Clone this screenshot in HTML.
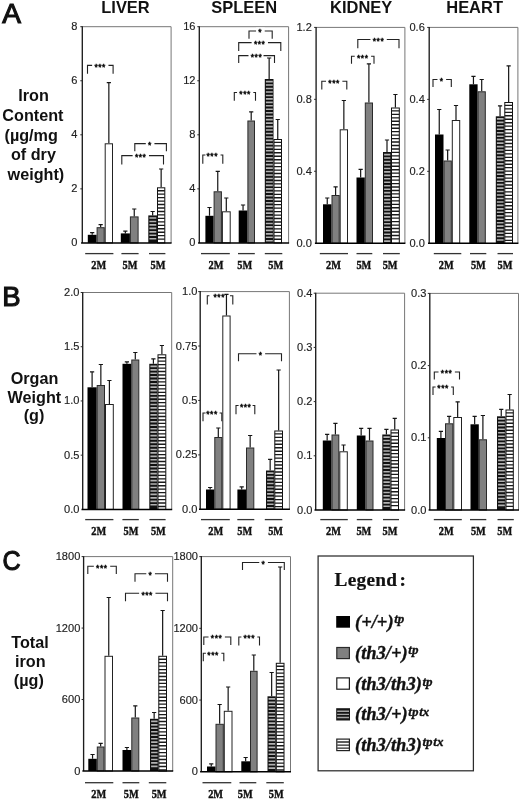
<!DOCTYPE html>
<html><head><meta charset="utf-8"><title>Figure</title>
<style>
html,body{margin:0;padding:0;background:#fff;}
svg{display:block;will-change:transform;}
.s{font-family:"Liberation Sans",Arial,Helvetica,sans-serif;}
.t{font-family:"Liberation Serif","Times New Roman",Times,serif;}
.b{font-family:"Liberation Sans",Arial,Helvetica,sans-serif;font-weight:bold;}
</style></head><body>
<svg width="520" height="802" viewBox="0 0 520 802">
<rect width="520" height="802" fill="#fff"/>
<text transform="translate(125.5 13.1) scale(1.01 1)" font-size="16.3" text-anchor="middle" class="b" fill="#111">LIVER</text>
<text transform="translate(244.2 13.1) scale(1.01 1)" font-size="16.3" text-anchor="middle" class="b" fill="#111">SPLEEN</text>
<text transform="translate(361.2 13.1) scale(1.01 1)" font-size="16.3" text-anchor="middle" class="b" fill="#111">KIDNEY</text>
<text transform="translate(474.6 13.1) scale(1.01 1)" font-size="16.3" text-anchor="middle" class="b" fill="#111">HEART</text>
<text transform="translate(2.2 23.0) scale(1.04 1)" font-size="27" class="s" fill="#111" stroke="#111" stroke-width="1.1">A</text>
<text transform="translate(2.3 305.5) scale(1.02 1)" font-size="27" class="s" fill="#111" stroke="#111" stroke-width="1.1">B</text>
<text transform="translate(2.4 570.2) scale(0.93 1)" font-size="27" class="s" fill="#111" stroke="#111" stroke-width="1.1">C</text>
<text transform="translate(33.5 101.1) scale(1.0 1)" font-size="16.2" text-anchor="middle" class="b" fill="#111">Iron</text>
<text transform="translate(32.9 120.7) scale(1.0 1)" font-size="16.2" text-anchor="middle" class="b" fill="#111">Content</text>
<text transform="translate(31.2 141.0) scale(1.0 1)" font-size="16.2" text-anchor="middle" class="b" fill="#111">(µg/mg</text>
<text transform="translate(33.4 159.8) scale(1.0 1)" font-size="16.2" text-anchor="middle" class="b" fill="#111">of dry</text>
<text transform="translate(35.9 179.5) scale(1.0 1)" font-size="16.2" text-anchor="middle" class="b" fill="#111">weight)</text>
<text transform="translate(34.5 384.4) scale(1.0 1)" font-size="16.2" text-anchor="middle" class="b" fill="#111">Organ</text>
<text transform="translate(34.4 402.9) scale(1.0 1)" font-size="16.2" text-anchor="middle" class="b" fill="#111">Weight</text>
<text transform="translate(34.0 421.4) scale(1.0 1)" font-size="16.2" text-anchor="middle" class="b" fill="#111">(g)</text>
<text transform="translate(30.0 648.2) scale(1.0 1)" font-size="16.2" text-anchor="middle" class="b" fill="#111">Total</text>
<text transform="translate(30.3 666.8) scale(1.0 1)" font-size="16.2" text-anchor="middle" class="b" fill="#111">iron</text>
<text transform="translate(28.8 685.5) scale(1.0 1)" font-size="16.2" text-anchor="middle" class="b" fill="#111">(µg)</text>
<path d="M82.3 26.7H171.1V242.9" stroke="#777" stroke-width="1" fill="none"/>
<path d="M87.5 73.8V65.4H113.1V73.8" stroke="#222" stroke-width="1.1" fill="none"/>
<rect x="92.12" y="61.9" width="16.35" height="6" fill="#fff"/>
<path d="M134.8 151.3V143.6H166.4V151.3" stroke="#222" stroke-width="1.1" fill="none"/>
<rect x="145.78" y="140.1" width="8.65" height="6" fill="#fff"/>
<path d="M121.8 164.4V155.6H163.5V164.4" stroke="#222" stroke-width="1.1" fill="none"/>
<rect x="132.62" y="152.1" width="16.35" height="6" fill="#fff"/>
<path d="M92.2 234.8V232.6M90.1 232.6H94.3" stroke="#151515" stroke-width="1.2" fill="none"/>
<rect x="87.8" y="234.8" width="8.8" height="8.1" fill="#000"/>
<path d="M100.65 227.2V224.6M98.55 224.6H102.75" stroke="#151515" stroke-width="1.2" fill="none"/>
<rect x="97.1" y="227.7" width="7.1" height="15.2" fill="#808080" stroke="#2a2a2a" stroke-width="1"/>
<path d="M108.85 143.3V82.7M106.75 82.7H110.95" stroke="#151515" stroke-width="1.2" fill="none"/>
<rect x="105.2" y="143.8" width="7.3" height="99.1" fill="#fff" stroke="#222" stroke-width="1"/>
<path d="M125.35 233.4V231.2M123.25 231.2H127.45" stroke="#151515" stroke-width="1.2" fill="none"/>
<rect x="120.8" y="233.4" width="9.1" height="9.5" fill="#000"/>
<path d="M134.25 216.4V209M132.15 209H136.35" stroke="#151515" stroke-width="1.2" fill="none"/>
<rect x="130.4" y="216.9" width="7.7" height="26" fill="#808080" stroke="#2a2a2a" stroke-width="1"/>
<path d="M152.65 215.4V211.5M150.55 211.5H154.75" stroke="#151515" stroke-width="1.2" fill="none"/>
<rect x="148.3" y="215.4" width="8.7" height="27.5" fill="#111"/>
<path d="M149.4 218H156.3M149.4 221.46H156.3M149.4 224.92H156.3M149.4 228.38H156.3M149.4 231.84H156.3M149.4 235.3H156.3M149.4 238.76H156.3" stroke="#b2b2b2" stroke-width="1.6" fill="none"/>
<path d="M161.15 187.3V169M159.05 169H163.25" stroke="#151515" stroke-width="1.2" fill="none"/>
<rect x="157.5" y="187.8" width="7.3" height="55.1" fill="#fff" stroke="#111" stroke-width="1"/>
<path d="M157.5 190.7H164.8M157.5 194.16H164.8M157.5 197.62H164.8M157.5 201.08H164.8M157.5 204.54H164.8M157.5 208H164.8M157.5 211.46H164.8M157.5 214.92H164.8M157.5 218.38H164.8M157.5 221.84H164.8M157.5 225.3H164.8M157.5 228.76H164.8M157.5 232.22H164.8M157.5 235.68H164.8M157.5 239.14H164.8" stroke="#1a1a1a" stroke-width="1.35" fill="none"/>
<path d="M82.3 26.2V242.9" stroke="#1c1c1c" stroke-width="1.35" fill="none"/>
<path d="M81.1 242.9H171.6" stroke="#000" stroke-width="1.45" fill="none"/>
<path d="M80.3 26.7H82.3" stroke="#2b2b2b" stroke-width="1" fill="none"/>
<text transform="translate(77.5 30.2) scale(0.955 1)" font-size="11.6" text-anchor="end" class="s" fill="#222" stroke="#222" stroke-width="0.15">8</text>
<path d="M80.3 80.75H82.3" stroke="#2b2b2b" stroke-width="1" fill="none"/>
<text transform="translate(77.5 84.25) scale(0.955 1)" font-size="11.6" text-anchor="end" class="s" fill="#222" stroke="#222" stroke-width="0.15">6</text>
<path d="M80.3 134.8H82.3" stroke="#2b2b2b" stroke-width="1" fill="none"/>
<text transform="translate(77.5 138.3) scale(0.955 1)" font-size="11.6" text-anchor="end" class="s" fill="#222" stroke="#222" stroke-width="0.15">4</text>
<path d="M80.3 188.85H82.3" stroke="#2b2b2b" stroke-width="1" fill="none"/>
<text transform="translate(77.5 192.35) scale(0.955 1)" font-size="11.6" text-anchor="end" class="s" fill="#222" stroke="#222" stroke-width="0.15">2</text>
<text transform="translate(77.5 246.4) scale(0.955 1)" font-size="11.6" text-anchor="end" class="s" fill="#222" stroke="#222" stroke-width="0.15">0</text>
<text x="100.2" y="69.8" font-size="8.4" letter-spacing="0.6" text-anchor="middle" class="s" fill="#111" stroke="#111" stroke-width="0.5">***</text>
<text x="150" y="148" font-size="8.4" letter-spacing="0.6" text-anchor="middle" class="s" fill="#111" stroke="#111" stroke-width="0.5">*</text>
<text x="140.7" y="160" font-size="8.4" letter-spacing="0.6" text-anchor="middle" class="s" fill="#111" stroke="#111" stroke-width="0.5">***</text>
<path d="M85.2 253.6H113.4" stroke="#333" stroke-width="1.3" fill="none"/>
<text transform="translate(98.7 268.8) scale(0.86 1)" font-size="12" text-anchor="middle" class="t" font-weight="bold" fill="#111" stroke="#111" stroke-width="0.4">2M</text>
<path d="M121.4 253.6H138.6" stroke="#333" stroke-width="1.3" fill="none"/>
<text transform="translate(130 268.8) scale(0.86 1)" font-size="12" text-anchor="middle" class="t" font-weight="bold" fill="#111" stroke="#111" stroke-width="0.4">5M</text>
<path d="M149 253.6H165.4" stroke="#333" stroke-width="1.3" fill="none"/>
<text transform="translate(158 268.8) scale(0.86 1)" font-size="12" text-anchor="middle" class="t" font-weight="bold" fill="#111" stroke="#111" stroke-width="0.4">5M</text>
<path d="M199.3 26.7H288.6V242.9" stroke="#777" stroke-width="1" fill="none"/>
<path d="M249 38.8V31H272.2V38.8" stroke="#222" stroke-width="1.1" fill="none"/>
<rect x="256.07" y="27.5" width="8.65" height="6" fill="#fff"/>
<path d="M238.7 51V42.6H280.8V51" stroke="#222" stroke-width="1.1" fill="none"/>
<rect x="251.62" y="39.1" width="16.35" height="6" fill="#fff"/>
<path d="M238.7 63V55.6H274.5V63" stroke="#222" stroke-width="1.1" fill="none"/>
<rect x="248.5" y="52.1" width="15" height="6" fill="#fff"/>
<path d="M234.3 100.8V92.5H255.5V100.8" stroke="#222" stroke-width="1.1" fill="none"/>
<rect x="237.03" y="89" width="16.28" height="6" fill="#fff"/>
<path d="M202.8 163.8V155H222.8V163.8" stroke="#222" stroke-width="1.1" fill="none"/>
<rect x="205.4" y="151.5" width="15.17" height="6" fill="#fff"/>
<path d="M209.5 215.8V207.5M207.4 207.5H211.6" stroke="#151515" stroke-width="1.2" fill="none"/>
<rect x="205.4" y="215.8" width="8.2" height="27.1" fill="#000"/>
<path d="M217.75 191.3V171.3M215.65 171.3H219.85" stroke="#151515" stroke-width="1.2" fill="none"/>
<rect x="214.1" y="191.8" width="7.3" height="51.1" fill="#808080" stroke="#2a2a2a" stroke-width="1"/>
<path d="M226.3 211.3V198M224.2 198H228.4" stroke="#151515" stroke-width="1.2" fill="none"/>
<rect x="222.4" y="211.8" width="7.8" height="31.1" fill="#fff" stroke="#222" stroke-width="1"/>
<path d="M243.05 210.5V205M240.95 205H245.15" stroke="#151515" stroke-width="1.2" fill="none"/>
<rect x="238.7" y="210.5" width="8.7" height="32.4" fill="#000"/>
<path d="M251.2 120.5V111.8M249.1 111.8H253.3" stroke="#151515" stroke-width="1.2" fill="none"/>
<rect x="247.9" y="121" width="6.6" height="121.9" fill="#808080" stroke="#2a2a2a" stroke-width="1"/>
<path d="M269.15 79V58M267.05 58H271.25" stroke="#151515" stroke-width="1.2" fill="none"/>
<rect x="264.8" y="79" width="8.7" height="163.9" fill="#111"/>
<path d="M265.9 81.6H272.8M265.9 85.06H272.8M265.9 88.52H272.8M265.9 91.98H272.8M265.9 95.44H272.8M265.9 98.9H272.8M265.9 102.36H272.8M265.9 105.82H272.8M265.9 109.28H272.8M265.9 112.74H272.8M265.9 116.2H272.8M265.9 119.66H272.8M265.9 123.12H272.8M265.9 126.58H272.8M265.9 130.04H272.8M265.9 133.5H272.8M265.9 136.96H272.8M265.9 140.42H272.8M265.9 143.88H272.8M265.9 147.34H272.8M265.9 150.8H272.8M265.9 154.26H272.8M265.9 157.72H272.8M265.9 161.18H272.8M265.9 164.64H272.8M265.9 168.1H272.8M265.9 171.56H272.8M265.9 175.02H272.8M265.9 178.48H272.8M265.9 181.94H272.8M265.9 185.4H272.8M265.9 188.86H272.8M265.9 192.32H272.8M265.9 195.78H272.8M265.9 199.24H272.8M265.9 202.7H272.8M265.9 206.16H272.8M265.9 209.62H272.8M265.9 213.08H272.8M265.9 216.54H272.8M265.9 220H272.8M265.9 223.46H272.8M265.9 226.92H272.8M265.9 230.38H272.8M265.9 233.84H272.8M265.9 237.3H272.8M265.9 240.76H272.8" stroke="#b2b2b2" stroke-width="1.6" fill="none"/>
<path d="M277.75 139V119.5M275.65 119.5H279.85" stroke="#151515" stroke-width="1.2" fill="none"/>
<rect x="274" y="139.5" width="7.5" height="103.4" fill="#fff" stroke="#111" stroke-width="1"/>
<path d="M274 142.4H281.5M274 145.86H281.5M274 149.32H281.5M274 152.78H281.5M274 156.24H281.5M274 159.7H281.5M274 163.16H281.5M274 166.62H281.5M274 170.08H281.5M274 173.54H281.5M274 177H281.5M274 180.46H281.5M274 183.92H281.5M274 187.38H281.5M274 190.84H281.5M274 194.3H281.5M274 197.76H281.5M274 201.22H281.5M274 204.68H281.5M274 208.14H281.5M274 211.6H281.5M274 215.06H281.5M274 218.52H281.5M274 221.98H281.5M274 225.44H281.5M274 228.9H281.5M274 232.36H281.5M274 235.82H281.5M274 239.28H281.5" stroke="#1a1a1a" stroke-width="1.35" fill="none"/>
<path d="M199.3 26.2V242.9" stroke="#1c1c1c" stroke-width="1.35" fill="none"/>
<path d="M198.1 242.9H289.1" stroke="#000" stroke-width="1.45" fill="none"/>
<path d="M197.3 26.7H199.3" stroke="#2b2b2b" stroke-width="1" fill="none"/>
<text transform="translate(195.5 30.2) scale(0.955 1)" font-size="11.6" text-anchor="end" class="s" fill="#222" stroke="#222" stroke-width="0.15">16</text>
<path d="M197.3 80.75H199.3" stroke="#2b2b2b" stroke-width="1" fill="none"/>
<text transform="translate(195.5 84.25) scale(0.955 1)" font-size="11.6" text-anchor="end" class="s" fill="#222" stroke="#222" stroke-width="0.15">12</text>
<path d="M197.3 134.8H199.3" stroke="#2b2b2b" stroke-width="1" fill="none"/>
<text transform="translate(195.5 138.3) scale(0.955 1)" font-size="11.6" text-anchor="end" class="s" fill="#222" stroke="#222" stroke-width="0.15">8</text>
<path d="M197.3 188.85H199.3" stroke="#2b2b2b" stroke-width="1" fill="none"/>
<text transform="translate(195.5 192.35) scale(0.955 1)" font-size="11.6" text-anchor="end" class="s" fill="#222" stroke="#222" stroke-width="0.15">4</text>
<text transform="translate(195.5 246.4) scale(0.955 1)" font-size="11.6" text-anchor="end" class="s" fill="#222" stroke="#222" stroke-width="0.15">0</text>
<text x="260.3" y="35.4" font-size="8.4" letter-spacing="0.6" text-anchor="middle" class="s" fill="#111" stroke="#111" stroke-width="0.5">*</text>
<text x="259.7" y="47" font-size="8.4" letter-spacing="0.6" text-anchor="middle" class="s" fill="#111" stroke="#111" stroke-width="0.5">***</text>
<text x="256.5" y="60" font-size="8.4" letter-spacing="0.6" text-anchor="middle" class="s" fill="#111" stroke="#111" stroke-width="0.5">***</text>
<text x="245.1" y="96.9" font-size="8.4" letter-spacing="0.6" text-anchor="middle" class="s" fill="#111" stroke="#111" stroke-width="0.5">***</text>
<text x="212.3" y="159.4" font-size="8.4" letter-spacing="0.6" text-anchor="middle" class="s" fill="#111" stroke="#111" stroke-width="0.5">***</text>
<path d="M201 253.6H229.8" stroke="#333" stroke-width="1.3" fill="none"/>
<text transform="translate(216 268.8) scale(0.86 1)" font-size="12" text-anchor="middle" class="t" font-weight="bold" fill="#111" stroke="#111" stroke-width="0.4">2M</text>
<path d="M238 253.6H254.8" stroke="#333" stroke-width="1.3" fill="none"/>
<text transform="translate(244.8 268.8) scale(0.86 1)" font-size="12" text-anchor="middle" class="t" font-weight="bold" fill="#111" stroke="#111" stroke-width="0.4">5M</text>
<path d="M264.8 253.6H282.3" stroke="#333" stroke-width="1.3" fill="none"/>
<text transform="translate(275.75 268.8) scale(0.86 1)" font-size="12" text-anchor="middle" class="t" font-weight="bold" fill="#111" stroke="#111" stroke-width="0.4">5M</text>
<path d="M316.1 27.4H404.9V243.2" stroke="#777" stroke-width="1" fill="none"/>
<path d="M357.8 48.3V39.5H399V48.3" stroke="#222" stroke-width="1.1" fill="none"/>
<rect x="370.43" y="36" width="16.35" height="6" fill="#fff"/>
<path d="M351.5 63.8V56.3H374V63.8" stroke="#222" stroke-width="1.1" fill="none"/>
<rect x="354.73" y="52.8" width="16.35" height="6" fill="#fff"/>
<path d="M321.8 89.5V81.3H346.8V89.5" stroke="#222" stroke-width="1.1" fill="none"/>
<rect x="326.02" y="77.8" width="16.35" height="6" fill="#fff"/>
<path d="M327.25 204.3V198M325.15 198H329.35" stroke="#151515" stroke-width="1.2" fill="none"/>
<rect x="323" y="204.3" width="8.5" height="38.9" fill="#000"/>
<path d="M335.6 195V186.8M333.5 186.8H337.7" stroke="#151515" stroke-width="1.2" fill="none"/>
<rect x="332" y="195.5" width="7.2" height="47.7" fill="#808080" stroke="#2a2a2a" stroke-width="1"/>
<path d="M343.85 129.3V100.5M341.75 100.5H345.95" stroke="#151515" stroke-width="1.2" fill="none"/>
<rect x="340.2" y="129.8" width="7.3" height="113.4" fill="#fff" stroke="#222" stroke-width="1"/>
<path d="M360.65 177.5V169.3M358.55 169.3H362.75" stroke="#151515" stroke-width="1.2" fill="none"/>
<rect x="356.5" y="177.5" width="8.3" height="65.7" fill="#000"/>
<path d="M368.9 102.5V63.8M366.8 63.8H371" stroke="#151515" stroke-width="1.2" fill="none"/>
<rect x="365.3" y="103" width="7.2" height="140.2" fill="#808080" stroke="#2a2a2a" stroke-width="1"/>
<path d="M387 152V140M384.9 140H389.1" stroke="#151515" stroke-width="1.2" fill="none"/>
<rect x="383" y="152" width="8" height="91.2" fill="#111"/>
<path d="M384.1 154.6H390.3M384.1 158.06H390.3M384.1 161.52H390.3M384.1 164.98H390.3M384.1 168.44H390.3M384.1 171.9H390.3M384.1 175.36H390.3M384.1 178.82H390.3M384.1 182.28H390.3M384.1 185.74H390.3M384.1 189.2H390.3M384.1 192.66H390.3M384.1 196.12H390.3M384.1 199.58H390.3M384.1 203.04H390.3M384.1 206.5H390.3M384.1 209.96H390.3M384.1 213.42H390.3M384.1 216.88H390.3M384.1 220.34H390.3M384.1 223.8H390.3M384.1 227.26H390.3M384.1 230.72H390.3M384.1 234.18H390.3M384.1 237.64H390.3M384.1 241.1H390.3" stroke="#b2b2b2" stroke-width="1.6" fill="none"/>
<path d="M395.4 107.5V94.5M393.3 94.5H397.5" stroke="#151515" stroke-width="1.2" fill="none"/>
<rect x="391.5" y="108" width="7.8" height="135.2" fill="#fff" stroke="#111" stroke-width="1"/>
<path d="M391.5 110.9H399.3M391.5 114.36H399.3M391.5 117.82H399.3M391.5 121.28H399.3M391.5 124.74H399.3M391.5 128.2H399.3M391.5 131.66H399.3M391.5 135.12H399.3M391.5 138.58H399.3M391.5 142.04H399.3M391.5 145.5H399.3M391.5 148.96H399.3M391.5 152.42H399.3M391.5 155.88H399.3M391.5 159.34H399.3M391.5 162.8H399.3M391.5 166.26H399.3M391.5 169.72H399.3M391.5 173.18H399.3M391.5 176.64H399.3M391.5 180.1H399.3M391.5 183.56H399.3M391.5 187.02H399.3M391.5 190.48H399.3M391.5 193.94H399.3M391.5 197.4H399.3M391.5 200.86H399.3M391.5 204.32H399.3M391.5 207.78H399.3M391.5 211.24H399.3M391.5 214.7H399.3M391.5 218.16H399.3M391.5 221.62H399.3M391.5 225.08H399.3M391.5 228.54H399.3M391.5 232H399.3M391.5 235.46H399.3M391.5 238.92H399.3" stroke="#1a1a1a" stroke-width="1.35" fill="none"/>
<path d="M316.1 26.9V243.2" stroke="#1c1c1c" stroke-width="1.35" fill="none"/>
<path d="M314.9 243.2H405.4" stroke="#000" stroke-width="1.45" fill="none"/>
<path d="M314.1 27.4H316.1" stroke="#2b2b2b" stroke-width="1" fill="none"/>
<text transform="translate(311.8 30.9) scale(0.955 1)" font-size="11.6" text-anchor="end" class="s" fill="#222" stroke="#222" stroke-width="0.15">1.2</text>
<path d="M314.1 99.33H316.1" stroke="#2b2b2b" stroke-width="1" fill="none"/>
<text transform="translate(311.8 102.83) scale(0.955 1)" font-size="11.6" text-anchor="end" class="s" fill="#222" stroke="#222" stroke-width="0.15">0.8</text>
<path d="M314.1 171.27H316.1" stroke="#2b2b2b" stroke-width="1" fill="none"/>
<text transform="translate(311.8 174.77) scale(0.955 1)" font-size="11.6" text-anchor="end" class="s" fill="#222" stroke="#222" stroke-width="0.15">0.4</text>
<text transform="translate(311.8 246.7) scale(0.955 1)" font-size="11.6" text-anchor="end" class="s" fill="#222" stroke="#222" stroke-width="0.15">0.0</text>
<text x="378.5" y="43.9" font-size="8.4" letter-spacing="0.6" text-anchor="middle" class="s" fill="#111" stroke="#111" stroke-width="0.5">***</text>
<text x="362.8" y="60.7" font-size="8.4" letter-spacing="0.6" text-anchor="middle" class="s" fill="#111" stroke="#111" stroke-width="0.5">***</text>
<text x="334.1" y="85.7" font-size="8.4" letter-spacing="0.6" text-anchor="middle" class="s" fill="#111" stroke="#111" stroke-width="0.5">***</text>
<path d="M319.8 253.6H348" stroke="#333" stroke-width="1.3" fill="none"/>
<text transform="translate(333.5 268.8) scale(0.86 1)" font-size="12" text-anchor="middle" class="t" font-weight="bold" fill="#111" stroke="#111" stroke-width="0.4">2M</text>
<path d="M356.5 253.6H372.3" stroke="#333" stroke-width="1.3" fill="none"/>
<text transform="translate(363.9 268.8) scale(0.86 1)" font-size="12" text-anchor="middle" class="t" font-weight="bold" fill="#111" stroke="#111" stroke-width="0.4">5M</text>
<path d="M383 253.6H399.8" stroke="#333" stroke-width="1.3" fill="none"/>
<text transform="translate(390.15 268.8) scale(0.86 1)" font-size="12" text-anchor="middle" class="t" font-weight="bold" fill="#111" stroke="#111" stroke-width="0.4">5M</text>
<path d="M429.2 27.4H517.9V243.3" stroke="#777" stroke-width="1" fill="none"/>
<path d="M433 87V79.5H451.3V87" stroke="#222" stroke-width="1.1" fill="none"/>
<rect x="437.47" y="76" width="8.65" height="6" fill="#fff"/>
<path d="M439.25 134.5V109.5M437.15 109.5H441.35" stroke="#151515" stroke-width="1.2" fill="none"/>
<rect x="435" y="134.5" width="8.5" height="108.8" fill="#000"/>
<path d="M447.65 160.5V150M445.55 150H449.75" stroke="#151515" stroke-width="1.2" fill="none"/>
<rect x="444" y="161" width="7.3" height="82.3" fill="#808080" stroke="#2a2a2a" stroke-width="1"/>
<path d="M456 120V105.5M453.9 105.5H458.1" stroke="#151515" stroke-width="1.2" fill="none"/>
<rect x="452.3" y="120.5" width="7.4" height="122.8" fill="#fff" stroke="#222" stroke-width="1"/>
<path d="M473.45 84.3V76.3M471.35 76.3H475.55" stroke="#151515" stroke-width="1.2" fill="none"/>
<rect x="469.3" y="84.3" width="8.3" height="159" fill="#000"/>
<path d="M481.7 91.3V79.5M479.6 79.5H483.8" stroke="#151515" stroke-width="1.2" fill="none"/>
<rect x="478.1" y="91.8" width="7.2" height="151.5" fill="#808080" stroke="#2a2a2a" stroke-width="1"/>
<path d="M500.05 116.3V105.8M497.95 105.8H502.15" stroke="#151515" stroke-width="1.2" fill="none"/>
<rect x="495.8" y="116.3" width="8.5" height="127" fill="#111"/>
<path d="M496.9 118.9H503.6M496.9 122.36H503.6M496.9 125.82H503.6M496.9 129.28H503.6M496.9 132.74H503.6M496.9 136.2H503.6M496.9 139.66H503.6M496.9 143.12H503.6M496.9 146.58H503.6M496.9 150.04H503.6M496.9 153.5H503.6M496.9 156.96H503.6M496.9 160.42H503.6M496.9 163.88H503.6M496.9 167.34H503.6M496.9 170.8H503.6M496.9 174.26H503.6M496.9 177.72H503.6M496.9 181.18H503.6M496.9 184.64H503.6M496.9 188.1H503.6M496.9 191.56H503.6M496.9 195.02H503.6M496.9 198.48H503.6M496.9 201.94H503.6M496.9 205.4H503.6M496.9 208.86H503.6M496.9 212.32H503.6M496.9 215.78H503.6M496.9 219.24H503.6M496.9 222.7H503.6M496.9 226.16H503.6M496.9 229.62H503.6M496.9 233.08H503.6M496.9 236.54H503.6M496.9 240H503.6" stroke="#b2b2b2" stroke-width="1.6" fill="none"/>
<path d="M508.65 102V65.8M506.55 65.8H510.75" stroke="#151515" stroke-width="1.2" fill="none"/>
<rect x="504.8" y="102.5" width="7.7" height="140.8" fill="#fff" stroke="#111" stroke-width="1"/>
<path d="M504.8 105.4H512.5M504.8 108.86H512.5M504.8 112.32H512.5M504.8 115.78H512.5M504.8 119.24H512.5M504.8 122.7H512.5M504.8 126.16H512.5M504.8 129.62H512.5M504.8 133.08H512.5M504.8 136.54H512.5M504.8 140H512.5M504.8 143.46H512.5M504.8 146.92H512.5M504.8 150.38H512.5M504.8 153.84H512.5M504.8 157.3H512.5M504.8 160.76H512.5M504.8 164.22H512.5M504.8 167.68H512.5M504.8 171.14H512.5M504.8 174.6H512.5M504.8 178.06H512.5M504.8 181.52H512.5M504.8 184.98H512.5M504.8 188.44H512.5M504.8 191.9H512.5M504.8 195.36H512.5M504.8 198.82H512.5M504.8 202.28H512.5M504.8 205.74H512.5M504.8 209.2H512.5M504.8 212.66H512.5M504.8 216.12H512.5M504.8 219.58H512.5M504.8 223.04H512.5M504.8 226.5H512.5M504.8 229.96H512.5M504.8 233.42H512.5M504.8 236.88H512.5M504.8 240.34H512.5" stroke="#1a1a1a" stroke-width="1.35" fill="none"/>
<path d="M429.2 26.9V243.3" stroke="#1c1c1c" stroke-width="1.35" fill="none"/>
<path d="M428 243.3H518.4" stroke="#000" stroke-width="1.45" fill="none"/>
<path d="M427.2 27.4H429.2" stroke="#2b2b2b" stroke-width="1" fill="none"/>
<text transform="translate(424.8 30.9) scale(0.955 1)" font-size="11.6" text-anchor="end" class="s" fill="#222" stroke="#222" stroke-width="0.15">0.6</text>
<path d="M427.2 99.37H429.2" stroke="#2b2b2b" stroke-width="1" fill="none"/>
<text transform="translate(424.8 102.87) scale(0.955 1)" font-size="11.6" text-anchor="end" class="s" fill="#222" stroke="#222" stroke-width="0.15">0.4</text>
<path d="M427.2 171.33H429.2" stroke="#2b2b2b" stroke-width="1" fill="none"/>
<text transform="translate(424.8 174.83) scale(0.955 1)" font-size="11.6" text-anchor="end" class="s" fill="#222" stroke="#222" stroke-width="0.15">0.2</text>
<text transform="translate(424.8 246.8) scale(0.955 1)" font-size="11.6" text-anchor="end" class="s" fill="#222" stroke="#222" stroke-width="0.15">0.0</text>
<text x="441.7" y="83.9" font-size="8.4" letter-spacing="0.6" text-anchor="middle" class="s" fill="#111" stroke="#111" stroke-width="0.5">*</text>
<path d="M433.8 253.6H461.3" stroke="#333" stroke-width="1.3" fill="none"/>
<text transform="translate(446.3 268.8) scale(0.86 1)" font-size="12" text-anchor="middle" class="t" font-weight="bold" fill="#111" stroke="#111" stroke-width="0.4">2M</text>
<path d="M470 253.6H486.3" stroke="#333" stroke-width="1.3" fill="none"/>
<text transform="translate(478.4 268.8) scale(0.86 1)" font-size="12" text-anchor="middle" class="t" font-weight="bold" fill="#111" stroke="#111" stroke-width="0.4">5M</text>
<path d="M497.5 253.6H513" stroke="#333" stroke-width="1.3" fill="none"/>
<text transform="translate(505 268.8) scale(0.86 1)" font-size="12" text-anchor="middle" class="t" font-weight="bold" fill="#111" stroke="#111" stroke-width="0.4">5M</text>
<path d="M82.7 292.5H171.7V509.4" stroke="#777" stroke-width="1" fill="none"/>
<path d="M92.1 387.3V371.8M90 371.8H94.2" stroke="#151515" stroke-width="1.2" fill="none"/>
<rect x="87.5" y="387.3" width="9.2" height="122.1" fill="#000"/>
<path d="M100.85 385V364.5M98.75 364.5H102.95" stroke="#151515" stroke-width="1.2" fill="none"/>
<rect x="97.2" y="385.5" width="7.3" height="123.9" fill="#808080" stroke="#2a2a2a" stroke-width="1"/>
<path d="M109.4 404V380.5M107.3 380.5H111.5" stroke="#151515" stroke-width="1.2" fill="none"/>
<rect x="105.5" y="404.5" width="7.8" height="104.9" fill="#fff" stroke="#222" stroke-width="1"/>
<path d="M126.9 363.8V361.8M124.8 361.8H129" stroke="#151515" stroke-width="1.2" fill="none"/>
<rect x="122.5" y="363.8" width="8.8" height="145.6" fill="#000"/>
<path d="M135.3 359.5V352.5M133.2 352.5H137.4" stroke="#151515" stroke-width="1.2" fill="none"/>
<rect x="131.8" y="360" width="7" height="149.4" fill="#808080" stroke="#2a2a2a" stroke-width="1"/>
<path d="M153.4 363.8V358.8M151.3 358.8H155.5" stroke="#151515" stroke-width="1.2" fill="none"/>
<rect x="149.3" y="363.8" width="8.2" height="145.6" fill="#111"/>
<path d="M150.4 366.4H156.8M150.4 369.86H156.8M150.4 373.32H156.8M150.4 376.78H156.8M150.4 380.24H156.8M150.4 383.7H156.8M150.4 387.16H156.8M150.4 390.62H156.8M150.4 394.08H156.8M150.4 397.54H156.8M150.4 401H156.8M150.4 404.46H156.8M150.4 407.92H156.8M150.4 411.38H156.8M150.4 414.84H156.8M150.4 418.3H156.8M150.4 421.76H156.8M150.4 425.22H156.8M150.4 428.68H156.8M150.4 432.14H156.8M150.4 435.6H156.8M150.4 439.06H156.8M150.4 442.52H156.8M150.4 445.98H156.8M150.4 449.44H156.8M150.4 452.9H156.8M150.4 456.36H156.8M150.4 459.82H156.8M150.4 463.28H156.8M150.4 466.74H156.8M150.4 470.2H156.8M150.4 473.66H156.8M150.4 477.12H156.8M150.4 480.58H156.8M150.4 484.04H156.8M150.4 487.5H156.8M150.4 490.96H156.8M150.4 494.42H156.8M150.4 497.88H156.8M150.4 501.34H156.8M150.4 504.8H156.8" stroke="#b2b2b2" stroke-width="1.6" fill="none"/>
<path d="M161.9 354.3V345.5M159.8 345.5H164" stroke="#151515" stroke-width="1.2" fill="none"/>
<rect x="158" y="354.8" width="7.8" height="154.6" fill="#fff" stroke="#111" stroke-width="1"/>
<path d="M158 357.7H165.8M158 361.16H165.8M158 364.62H165.8M158 368.08H165.8M158 371.54H165.8M158 375H165.8M158 378.46H165.8M158 381.92H165.8M158 385.38H165.8M158 388.84H165.8M158 392.3H165.8M158 395.76H165.8M158 399.22H165.8M158 402.68H165.8M158 406.14H165.8M158 409.6H165.8M158 413.06H165.8M158 416.52H165.8M158 419.98H165.8M158 423.44H165.8M158 426.9H165.8M158 430.36H165.8M158 433.82H165.8M158 437.28H165.8M158 440.74H165.8M158 444.2H165.8M158 447.66H165.8M158 451.12H165.8M158 454.58H165.8M158 458.04H165.8M158 461.5H165.8M158 464.96H165.8M158 468.42H165.8M158 471.88H165.8M158 475.34H165.8M158 478.8H165.8M158 482.26H165.8M158 485.72H165.8M158 489.18H165.8M158 492.64H165.8M158 496.1H165.8M158 499.56H165.8M158 503.02H165.8M158 506.48H165.8" stroke="#1a1a1a" stroke-width="1.35" fill="none"/>
<path d="M82.7 292V509.4" stroke="#1c1c1c" stroke-width="1.35" fill="none"/>
<path d="M81.5 509.4H172.2" stroke="#000" stroke-width="1.45" fill="none"/>
<path d="M80.7 292.5H82.7" stroke="#2b2b2b" stroke-width="1" fill="none"/>
<text transform="translate(79.4 296) scale(0.955 1)" font-size="11.6" text-anchor="end" class="s" fill="#222" stroke="#222" stroke-width="0.15">2.0</text>
<path d="M80.7 346.73H82.7" stroke="#2b2b2b" stroke-width="1" fill="none"/>
<text transform="translate(79.4 350.23) scale(0.955 1)" font-size="11.6" text-anchor="end" class="s" fill="#222" stroke="#222" stroke-width="0.15">1.5</text>
<path d="M80.7 400.95H82.7" stroke="#2b2b2b" stroke-width="1" fill="none"/>
<text transform="translate(79.4 404.45) scale(0.955 1)" font-size="11.6" text-anchor="end" class="s" fill="#222" stroke="#222" stroke-width="0.15">1.0</text>
<path d="M80.7 455.17H82.7" stroke="#2b2b2b" stroke-width="1" fill="none"/>
<text transform="translate(79.4 458.67) scale(0.955 1)" font-size="11.6" text-anchor="end" class="s" fill="#222" stroke="#222" stroke-width="0.15">0.5</text>
<text transform="translate(79.4 512.9) scale(0.955 1)" font-size="11.6" text-anchor="end" class="s" fill="#222" stroke="#222" stroke-width="0.15">0.0</text>
<path d="M85.2 519.6H113.4" stroke="#333" stroke-width="1.3" fill="none"/>
<text transform="translate(98.7 535) scale(0.86 1)" font-size="12" text-anchor="middle" class="t" font-weight="bold" fill="#111" stroke="#111" stroke-width="0.4">2M</text>
<path d="M122.4 519.6H138.8" stroke="#333" stroke-width="1.3" fill="none"/>
<text transform="translate(131 535) scale(0.86 1)" font-size="12" text-anchor="middle" class="t" font-weight="bold" fill="#111" stroke="#111" stroke-width="0.4">5M</text>
<path d="M149.4 519.6H165.6" stroke="#333" stroke-width="1.3" fill="none"/>
<text transform="translate(158.4 535) scale(0.86 1)" font-size="12" text-anchor="middle" class="t" font-weight="bold" fill="#111" stroke="#111" stroke-width="0.4">5M</text>
<path d="M200.2 291.6H289.4V509.3" stroke="#777" stroke-width="1" fill="none"/>
<path d="M207.3 304.5V295.8H232.8V304.5" stroke="#222" stroke-width="1.1" fill="none"/>
<rect x="209.4" y="292.3" width="20.6" height="6" fill="#fff"/>
<path d="M238.5 361.3V353.8H281.5V361.3" stroke="#222" stroke-width="1.1" fill="none"/>
<rect x="256.47" y="350.3" width="8.65" height="6" fill="#fff"/>
<path d="M236 414.3V405.5H254.8V414.3" stroke="#222" stroke-width="1.1" fill="none"/>
<rect x="238.6" y="402" width="14" height="6" fill="#fff"/>
<path d="M203 421.3V413H221.8V421.3" stroke="#222" stroke-width="1.1" fill="none"/>
<rect x="205.6" y="409.5" width="14" height="6" fill="#fff"/>
<path d="M210.15 489.5V487.5M208.05 487.5H212.25" stroke="#151515" stroke-width="1.2" fill="none"/>
<rect x="206" y="489.5" width="8.3" height="19.8" fill="#000"/>
<path d="M218.3 437V428M216.2 428H220.4" stroke="#151515" stroke-width="1.2" fill="none"/>
<rect x="214.8" y="437.5" width="7" height="71.8" fill="#808080" stroke="#2a2a2a" stroke-width="1"/>
<path d="M226.45 315.5V294.3M224.35 294.3H228.55" stroke="#151515" stroke-width="1.2" fill="none"/>
<rect x="222.8" y="316" width="7.3" height="193.3" fill="#fff" stroke="#222" stroke-width="1"/>
<path d="M241.7 489.5V486.8M239.6 486.8H243.8" stroke="#151515" stroke-width="1.2" fill="none"/>
<rect x="237.4" y="489.5" width="8.6" height="19.8" fill="#000"/>
<path d="M250.15 447.5V435.5M248.05 435.5H252.25" stroke="#151515" stroke-width="1.2" fill="none"/>
<rect x="246.5" y="448" width="7.3" height="61.3" fill="#808080" stroke="#2a2a2a" stroke-width="1"/>
<path d="M270.15 470.5V459.3M268.05 459.3H272.25" stroke="#151515" stroke-width="1.2" fill="none"/>
<rect x="266" y="470.5" width="8.3" height="38.8" fill="#111"/>
<path d="M267.1 473.1H273.6M267.1 476.56H273.6M267.1 480.02H273.6M267.1 483.48H273.6M267.1 486.94H273.6M267.1 490.4H273.6M267.1 493.86H273.6M267.1 497.32H273.6M267.1 500.78H273.6M267.1 504.24H273.6M267.1 507.7H273.6" stroke="#b2b2b2" stroke-width="1.6" fill="none"/>
<path d="M278.65 430.5V370M276.55 370H280.75" stroke="#151515" stroke-width="1.2" fill="none"/>
<rect x="274.8" y="431" width="7.7" height="78.3" fill="#fff" stroke="#111" stroke-width="1"/>
<path d="M274.8 433.9H282.5M274.8 437.36H282.5M274.8 440.82H282.5M274.8 444.28H282.5M274.8 447.74H282.5M274.8 451.2H282.5M274.8 454.66H282.5M274.8 458.12H282.5M274.8 461.58H282.5M274.8 465.04H282.5M274.8 468.5H282.5M274.8 471.96H282.5M274.8 475.42H282.5M274.8 478.88H282.5M274.8 482.34H282.5M274.8 485.8H282.5M274.8 489.26H282.5M274.8 492.72H282.5M274.8 496.18H282.5M274.8 499.64H282.5M274.8 503.1H282.5M274.8 506.56H282.5" stroke="#1a1a1a" stroke-width="1.35" fill="none"/>
<path d="M200.2 291.1V509.3" stroke="#1c1c1c" stroke-width="1.35" fill="none"/>
<path d="M199 509.3H289.9" stroke="#000" stroke-width="1.45" fill="none"/>
<path d="M198.2 291.6H200.2" stroke="#2b2b2b" stroke-width="1" fill="none"/>
<text transform="translate(197.4 295.1) scale(0.955 1)" font-size="11.6" text-anchor="end" class="s" fill="#222" stroke="#222" stroke-width="0.15">1.0</text>
<path d="M198.2 346.03H200.2" stroke="#2b2b2b" stroke-width="1" fill="none"/>
<text transform="translate(197.4 349.53) scale(0.955 1)" font-size="11.6" text-anchor="end" class="s" fill="#222" stroke="#222" stroke-width="0.15">0.75</text>
<path d="M198.2 400.45H200.2" stroke="#2b2b2b" stroke-width="1" fill="none"/>
<text transform="translate(197.4 403.95) scale(0.955 1)" font-size="11.6" text-anchor="end" class="s" fill="#222" stroke="#222" stroke-width="0.15">0.5</text>
<path d="M198.2 454.88H200.2" stroke="#2b2b2b" stroke-width="1" fill="none"/>
<text transform="translate(197.4 458.38) scale(0.955 1)" font-size="11.6" text-anchor="end" class="s" fill="#222" stroke="#222" stroke-width="0.15">0.25</text>
<text transform="translate(197.4 512.8) scale(0.955 1)" font-size="11.6" text-anchor="end" class="s" fill="#222" stroke="#222" stroke-width="0.15">0.0</text>
<text x="219.3" y="300.2" font-size="8.4" letter-spacing="0.6" text-anchor="middle" class="s" fill="#111" stroke="#111" stroke-width="0.5">***</text>
<text x="260.7" y="358.2" font-size="8.4" letter-spacing="0.6" text-anchor="middle" class="s" fill="#111" stroke="#111" stroke-width="0.5">*</text>
<text x="245.7" y="409.9" font-size="8.4" letter-spacing="0.6" text-anchor="middle" class="s" fill="#111" stroke="#111" stroke-width="0.5">***</text>
<text x="212" y="417.4" font-size="8.4" letter-spacing="0.6" text-anchor="middle" class="s" fill="#111" stroke="#111" stroke-width="0.5">***</text>
<path d="M201 519.6H229.8" stroke="#333" stroke-width="1.3" fill="none"/>
<text transform="translate(215.75 535) scale(0.86 1)" font-size="12" text-anchor="middle" class="t" font-weight="bold" fill="#111" stroke="#111" stroke-width="0.4">2M</text>
<path d="M237.3 519.6H254.3" stroke="#333" stroke-width="1.3" fill="none"/>
<text transform="translate(244.8 535) scale(0.86 1)" font-size="12" text-anchor="middle" class="t" font-weight="bold" fill="#111" stroke="#111" stroke-width="0.4">5M</text>
<path d="M264.8 519.6H282.3" stroke="#333" stroke-width="1.3" fill="none"/>
<text transform="translate(275.65 535) scale(0.86 1)" font-size="12" text-anchor="middle" class="t" font-weight="bold" fill="#111" stroke="#111" stroke-width="0.4">5M</text>
<path d="M315.7 293.2H404.6V510" stroke="#777" stroke-width="1" fill="none"/>
<path d="M327.15 440.5V434.3M325.05 434.3H329.25" stroke="#151515" stroke-width="1.2" fill="none"/>
<rect x="322.8" y="440.5" width="8.7" height="69.5" fill="#000"/>
<path d="M335.4 434.5V423.3M333.3 423.3H337.5" stroke="#151515" stroke-width="1.2" fill="none"/>
<rect x="332" y="435" width="6.8" height="75" fill="#808080" stroke="#2a2a2a" stroke-width="1"/>
<path d="M343.55 451.3V445M341.45 445H345.65" stroke="#151515" stroke-width="1.2" fill="none"/>
<rect x="339.8" y="451.8" width="7.5" height="58.2" fill="#fff" stroke="#222" stroke-width="1"/>
<path d="M361.15 435.5V428.3M359.05 428.3H363.25" stroke="#151515" stroke-width="1.2" fill="none"/>
<rect x="356.8" y="435.5" width="8.7" height="74.5" fill="#000"/>
<path d="M369.5 440.5V428.3M367.4 428.3H371.6" stroke="#151515" stroke-width="1.2" fill="none"/>
<rect x="366" y="441" width="7" height="69" fill="#808080" stroke="#2a2a2a" stroke-width="1"/>
<path d="M386.4 434.5V429.3M384.3 429.3H388.5" stroke="#151515" stroke-width="1.2" fill="none"/>
<rect x="382.3" y="434.5" width="8.2" height="75.5" fill="#111"/>
<path d="M383.4 437.1H389.8M383.4 440.56H389.8M383.4 444.02H389.8M383.4 447.48H389.8M383.4 450.94H389.8M383.4 454.4H389.8M383.4 457.86H389.8M383.4 461.32H389.8M383.4 464.78H389.8M383.4 468.24H389.8M383.4 471.7H389.8M383.4 475.16H389.8M383.4 478.62H389.8M383.4 482.08H389.8M383.4 485.54H389.8M383.4 489H389.8M383.4 492.46H389.8M383.4 495.92H389.8M383.4 499.38H389.8M383.4 502.84H389.8M383.4 506.3H389.8" stroke="#b2b2b2" stroke-width="1.6" fill="none"/>
<path d="M394.75 429.5V418.3M392.65 418.3H396.85" stroke="#151515" stroke-width="1.2" fill="none"/>
<rect x="391" y="430" width="7.5" height="80" fill="#fff" stroke="#111" stroke-width="1"/>
<path d="M391 432.9H398.5M391 436.36H398.5M391 439.82H398.5M391 443.28H398.5M391 446.74H398.5M391 450.2H398.5M391 453.66H398.5M391 457.12H398.5M391 460.58H398.5M391 464.04H398.5M391 467.5H398.5M391 470.96H398.5M391 474.42H398.5M391 477.88H398.5M391 481.34H398.5M391 484.8H398.5M391 488.26H398.5M391 491.72H398.5M391 495.18H398.5M391 498.64H398.5M391 502.1H398.5M391 505.56H398.5" stroke="#1a1a1a" stroke-width="1.35" fill="none"/>
<path d="M315.7 292.7V510" stroke="#1c1c1c" stroke-width="1.35" fill="none"/>
<path d="M314.5 510H405.1" stroke="#000" stroke-width="1.45" fill="none"/>
<path d="M313.7 293.2H315.7" stroke="#2b2b2b" stroke-width="1" fill="none"/>
<text transform="translate(312.4 296.7) scale(0.955 1)" font-size="11.6" text-anchor="end" class="s" fill="#222" stroke="#222" stroke-width="0.15">0.4</text>
<path d="M313.7 347.4H315.7" stroke="#2b2b2b" stroke-width="1" fill="none"/>
<text transform="translate(312.4 350.9) scale(0.955 1)" font-size="11.6" text-anchor="end" class="s" fill="#222" stroke="#222" stroke-width="0.15">0.3</text>
<path d="M313.7 401.6H315.7" stroke="#2b2b2b" stroke-width="1" fill="none"/>
<text transform="translate(312.4 405.1) scale(0.955 1)" font-size="11.6" text-anchor="end" class="s" fill="#222" stroke="#222" stroke-width="0.15">0.2</text>
<path d="M313.7 455.8H315.7" stroke="#2b2b2b" stroke-width="1" fill="none"/>
<text transform="translate(312.4 459.3) scale(0.955 1)" font-size="11.6" text-anchor="end" class="s" fill="#222" stroke="#222" stroke-width="0.15">0.1</text>
<text transform="translate(312.4 513.5) scale(0.955 1)" font-size="11.6" text-anchor="end" class="s" fill="#222" stroke="#222" stroke-width="0.15">0.0</text>
<path d="M320.3 519.6H347.8" stroke="#333" stroke-width="1.3" fill="none"/>
<text transform="translate(333.5 535) scale(0.86 1)" font-size="12" text-anchor="middle" class="t" font-weight="bold" fill="#111" stroke="#111" stroke-width="0.4">2M</text>
<path d="M356.8 519.6H372.3" stroke="#333" stroke-width="1.3" fill="none"/>
<text transform="translate(363.9 535) scale(0.86 1)" font-size="12" text-anchor="middle" class="t" font-weight="bold" fill="#111" stroke="#111" stroke-width="0.4">5M</text>
<path d="M383 519.6H399" stroke="#333" stroke-width="1.3" fill="none"/>
<text transform="translate(390.05 535) scale(0.86 1)" font-size="12" text-anchor="middle" class="t" font-weight="bold" fill="#111" stroke="#111" stroke-width="0.4">5M</text>
<path d="M429.8 293.4H518.5V510" stroke="#777" stroke-width="1" fill="none"/>
<path d="M434.3 379.5V372H459.5V379.5" stroke="#222" stroke-width="1.1" fill="none"/>
<rect x="438.52" y="368.5" width="16.35" height="6" fill="#fff"/>
<path d="M433 395V387H453.3V395" stroke="#222" stroke-width="1.1" fill="none"/>
<rect x="435.6" y="383.5" width="15.5" height="6" fill="#fff"/>
<path d="M440.9 438V431.3M438.8 431.3H443" stroke="#151515" stroke-width="1.2" fill="none"/>
<rect x="436.8" y="438" width="8.2" height="72" fill="#000"/>
<path d="M449.15 423.3V416.3M447.05 416.3H451.25" stroke="#151515" stroke-width="1.2" fill="none"/>
<rect x="445.5" y="423.8" width="7.3" height="86.2" fill="#808080" stroke="#2a2a2a" stroke-width="1"/>
<path d="M457.65 417V401.8M455.55 401.8H459.75" stroke="#151515" stroke-width="1.2" fill="none"/>
<rect x="453.8" y="417.5" width="7.7" height="92.5" fill="#fff" stroke="#222" stroke-width="1"/>
<path d="M474.65 424.3V416.3M472.55 416.3H476.75" stroke="#151515" stroke-width="1.2" fill="none"/>
<rect x="470.5" y="424.3" width="8.3" height="85.7" fill="#000"/>
<path d="M482.9 439.3V415.5M480.8 415.5H485" stroke="#151515" stroke-width="1.2" fill="none"/>
<rect x="479.3" y="439.8" width="7.2" height="70.2" fill="#808080" stroke="#2a2a2a" stroke-width="1"/>
<path d="M501.25 416.3V409.3M499.15 409.3H503.35" stroke="#151515" stroke-width="1.2" fill="none"/>
<rect x="497" y="416.3" width="8.5" height="93.7" fill="#111"/>
<path d="M498.1 418.9H504.8M498.1 422.36H504.8M498.1 425.82H504.8M498.1 429.28H504.8M498.1 432.74H504.8M498.1 436.2H504.8M498.1 439.66H504.8M498.1 443.12H504.8M498.1 446.58H504.8M498.1 450.04H504.8M498.1 453.5H504.8M498.1 456.96H504.8M498.1 460.42H504.8M498.1 463.88H504.8M498.1 467.34H504.8M498.1 470.8H504.8M498.1 474.26H504.8M498.1 477.72H504.8M498.1 481.18H504.8M498.1 484.64H504.8M498.1 488.1H504.8M498.1 491.56H504.8M498.1 495.02H504.8M498.1 498.48H504.8M498.1 501.94H504.8M498.1 505.4H504.8" stroke="#b2b2b2" stroke-width="1.6" fill="none"/>
<path d="M509.65 409.5V394.5M507.55 394.5H511.75" stroke="#151515" stroke-width="1.2" fill="none"/>
<rect x="506" y="410" width="7.3" height="100" fill="#fff" stroke="#111" stroke-width="1"/>
<path d="M506 412.9H513.3M506 416.36H513.3M506 419.82H513.3M506 423.28H513.3M506 426.74H513.3M506 430.2H513.3M506 433.66H513.3M506 437.12H513.3M506 440.58H513.3M506 444.04H513.3M506 447.5H513.3M506 450.96H513.3M506 454.42H513.3M506 457.88H513.3M506 461.34H513.3M506 464.8H513.3M506 468.26H513.3M506 471.72H513.3M506 475.18H513.3M506 478.64H513.3M506 482.1H513.3M506 485.56H513.3M506 489.02H513.3M506 492.48H513.3M506 495.94H513.3M506 499.4H513.3M506 502.86H513.3M506 506.32H513.3" stroke="#1a1a1a" stroke-width="1.35" fill="none"/>
<path d="M429.8 292.9V510" stroke="#1c1c1c" stroke-width="1.35" fill="none"/>
<path d="M428.6 510H519" stroke="#000" stroke-width="1.45" fill="none"/>
<path d="M427.8 293.4H429.8" stroke="#2b2b2b" stroke-width="1" fill="none"/>
<text transform="translate(426.5 296.9) scale(0.955 1)" font-size="11.6" text-anchor="end" class="s" fill="#222" stroke="#222" stroke-width="0.15">0.3</text>
<path d="M427.8 365.6H429.8" stroke="#2b2b2b" stroke-width="1" fill="none"/>
<text transform="translate(426.5 369.1) scale(0.955 1)" font-size="11.6" text-anchor="end" class="s" fill="#222" stroke="#222" stroke-width="0.15">0.2</text>
<path d="M427.8 437.8H429.8" stroke="#2b2b2b" stroke-width="1" fill="none"/>
<text transform="translate(426.5 441.3) scale(0.955 1)" font-size="11.6" text-anchor="end" class="s" fill="#222" stroke="#222" stroke-width="0.15">0.1</text>
<text transform="translate(426.5 513.5) scale(0.955 1)" font-size="11.6" text-anchor="end" class="s" fill="#222" stroke="#222" stroke-width="0.15">0.0</text>
<text x="446.6" y="376.4" font-size="8.4" letter-spacing="0.6" text-anchor="middle" class="s" fill="#111" stroke="#111" stroke-width="0.5">***</text>
<text x="443.1" y="391.4" font-size="8.4" letter-spacing="0.6" text-anchor="middle" class="s" fill="#111" stroke="#111" stroke-width="0.5">***</text>
<path d="M433.8 519.6H461.8" stroke="#333" stroke-width="1.3" fill="none"/>
<text transform="translate(446.3 535) scale(0.86 1)" font-size="12" text-anchor="middle" class="t" font-weight="bold" fill="#111" stroke="#111" stroke-width="0.4">2M</text>
<path d="M470 519.6H486.3" stroke="#333" stroke-width="1.3" fill="none"/>
<text transform="translate(478.4 535) scale(0.86 1)" font-size="12" text-anchor="middle" class="t" font-weight="bold" fill="#111" stroke="#111" stroke-width="0.4">5M</text>
<path d="M497.5 519.6H513.8" stroke="#333" stroke-width="1.3" fill="none"/>
<text transform="translate(504.75 535) scale(0.86 1)" font-size="12" text-anchor="middle" class="t" font-weight="bold" fill="#111" stroke="#111" stroke-width="0.4">5M</text>
<path d="M83.6 556.6H172.7V771" stroke="#777" stroke-width="1" fill="none"/>
<path d="M87.8 574V566.3H116.3V574" stroke="#222" stroke-width="1.1" fill="none"/>
<rect x="93.83" y="562.8" width="16.35" height="6" fill="#fff"/>
<path d="M135 581.8V573.8H167.5V581.8" stroke="#222" stroke-width="1.1" fill="none"/>
<rect x="146.28" y="570.3" width="8.65" height="6" fill="#fff"/>
<path d="M125.5 601.3V593.3H167.5V601.3" stroke="#222" stroke-width="1.1" fill="none"/>
<rect x="139.12" y="589.8" width="16.35" height="6" fill="#fff"/>
<path d="M92.55 758.8V754.5M90.45 754.5H94.65" stroke="#151515" stroke-width="1.2" fill="none"/>
<rect x="88.3" y="758.8" width="8.5" height="12.2" fill="#000"/>
<path d="M100.65 746.5V743.3M98.55 743.3H102.75" stroke="#151515" stroke-width="1.2" fill="none"/>
<rect x="97.3" y="747" width="6.7" height="24" fill="#808080" stroke="#2a2a2a" stroke-width="1"/>
<path d="M108.75 655.8V597.5M106.65 597.5H110.85" stroke="#151515" stroke-width="1.2" fill="none"/>
<rect x="105" y="656.3" width="7.5" height="114.7" fill="#fff" stroke="#222" stroke-width="1"/>
<path d="M126.9 750V747.5M124.8 747.5H129" stroke="#151515" stroke-width="1.2" fill="none"/>
<rect x="122.5" y="750" width="8.8" height="21" fill="#000"/>
<path d="M135.3 717.5V705.8M133.2 705.8H137.4" stroke="#151515" stroke-width="1.2" fill="none"/>
<rect x="131.8" y="718" width="7" height="53" fill="#808080" stroke="#2a2a2a" stroke-width="1"/>
<path d="M154.15 718.8V712.5M152.05 712.5H156.25" stroke="#151515" stroke-width="1.2" fill="none"/>
<rect x="150" y="718.8" width="8.3" height="52.2" fill="#111"/>
<path d="M151.1 721.4H157.6M151.1 724.86H157.6M151.1 728.32H157.6M151.1 731.78H157.6M151.1 735.24H157.6M151.1 738.7H157.6M151.1 742.16H157.6M151.1 745.62H157.6M151.1 749.08H157.6M151.1 752.54H157.6M151.1 756H157.6M151.1 759.46H157.6M151.1 762.92H157.6M151.1 766.38H157.6" stroke="#b2b2b2" stroke-width="1.6" fill="none"/>
<path d="M162.65 655.8V610.5M160.55 610.5H164.75" stroke="#151515" stroke-width="1.2" fill="none"/>
<rect x="158.8" y="656.3" width="7.7" height="114.7" fill="#fff" stroke="#111" stroke-width="1"/>
<path d="M158.8 659.2H166.5M158.8 662.66H166.5M158.8 666.12H166.5M158.8 669.58H166.5M158.8 673.04H166.5M158.8 676.5H166.5M158.8 679.96H166.5M158.8 683.42H166.5M158.8 686.88H166.5M158.8 690.34H166.5M158.8 693.8H166.5M158.8 697.26H166.5M158.8 700.72H166.5M158.8 704.18H166.5M158.8 707.64H166.5M158.8 711.1H166.5M158.8 714.56H166.5M158.8 718.02H166.5M158.8 721.48H166.5M158.8 724.94H166.5M158.8 728.4H166.5M158.8 731.86H166.5M158.8 735.32H166.5M158.8 738.78H166.5M158.8 742.24H166.5M158.8 745.7H166.5M158.8 749.16H166.5M158.8 752.62H166.5M158.8 756.08H166.5M158.8 759.54H166.5M158.8 763H166.5M158.8 766.46H166.5M158.8 769.92H166.5" stroke="#1a1a1a" stroke-width="1.35" fill="none"/>
<path d="M83.6 556.1V771" stroke="#1c1c1c" stroke-width="1.35" fill="none"/>
<path d="M82.4 771H173.2" stroke="#000" stroke-width="1.45" fill="none"/>
<path d="M81.6 556.6H83.6" stroke="#2b2b2b" stroke-width="1" fill="none"/>
<text transform="translate(80.3 560.1) scale(0.955 1)" font-size="11.6" text-anchor="end" class="s" fill="#222" stroke="#222" stroke-width="0.15">1800</text>
<path d="M81.6 628.07H83.6" stroke="#2b2b2b" stroke-width="1" fill="none"/>
<text transform="translate(80.3 631.57) scale(0.955 1)" font-size="11.6" text-anchor="end" class="s" fill="#222" stroke="#222" stroke-width="0.15">1200</text>
<path d="M81.6 699.53H83.6" stroke="#2b2b2b" stroke-width="1" fill="none"/>
<text transform="translate(80.3 703.03) scale(0.955 1)" font-size="11.6" text-anchor="end" class="s" fill="#222" stroke="#222" stroke-width="0.15">600</text>
<text transform="translate(80.3 774.5) scale(0.955 1)" font-size="11.6" text-anchor="end" class="s" fill="#222" stroke="#222" stroke-width="0.15">0</text>
<text x="101.9" y="570.7" font-size="8.4" letter-spacing="0.6" text-anchor="middle" class="s" fill="#111" stroke="#111" stroke-width="0.5">***</text>
<text x="150.5" y="578.2" font-size="8.4" letter-spacing="0.6" text-anchor="middle" class="s" fill="#111" stroke="#111" stroke-width="0.5">*</text>
<text x="147.2" y="597.7" font-size="8.4" letter-spacing="0.6" text-anchor="middle" class="s" fill="#111" stroke="#111" stroke-width="0.5">***</text>
<path d="M85 782.7H113.3" stroke="#333" stroke-width="1.3" fill="none"/>
<text transform="translate(98.8 798.3) scale(0.86 1)" font-size="12" text-anchor="middle" class="t" font-weight="bold" fill="#111" stroke="#111" stroke-width="0.4">2M</text>
<path d="M122.5 782.7H139.3" stroke="#333" stroke-width="1.3" fill="none"/>
<text transform="translate(131.3 798.3) scale(0.86 1)" font-size="12" text-anchor="middle" class="t" font-weight="bold" fill="#111" stroke="#111" stroke-width="0.4">5M</text>
<path d="M148.8 782.7H166.3" stroke="#333" stroke-width="1.3" fill="none"/>
<text transform="translate(159.15 798.3) scale(0.86 1)" font-size="12" text-anchor="middle" class="t" font-weight="bold" fill="#111" stroke="#111" stroke-width="0.4">5M</text>
<path d="M201.3 556.6H290.5V771.8" stroke="#777" stroke-width="1" fill="none"/>
<path d="M242.5 570V562.5H284.3V570" stroke="#222" stroke-width="1.1" fill="none"/>
<rect x="259.27" y="559" width="8.65" height="6" fill="#fff"/>
<path d="M203.8 645V637H230.8V645" stroke="#222" stroke-width="1.1" fill="none"/>
<rect x="208.53" y="633.5" width="16.35" height="6" fill="#fff"/>
<path d="M238.8 645.5V637H259.5V645.5" stroke="#222" stroke-width="1.1" fill="none"/>
<rect x="241.4" y="633.5" width="15.9" height="6" fill="#fff"/>
<path d="M203.3 661.3V653.3H223.8V661.3" stroke="#222" stroke-width="1.1" fill="none"/>
<rect x="205.9" y="649.8" width="15.47" height="6" fill="#fff"/>
<path d="M211.25 766.5V763.8M209.15 763.8H213.35" stroke="#151515" stroke-width="1.2" fill="none"/>
<rect x="207" y="766.5" width="8.5" height="5.3" fill="#000"/>
<path d="M219.65 723.8V704.5M217.55 704.5H221.75" stroke="#151515" stroke-width="1.2" fill="none"/>
<rect x="216" y="724.3" width="7.3" height="47.5" fill="#808080" stroke="#2a2a2a" stroke-width="1"/>
<path d="M228.15 710.8V687M226.05 687H230.25" stroke="#151515" stroke-width="1.2" fill="none"/>
<rect x="224.3" y="711.3" width="7.7" height="60.5" fill="#fff" stroke="#222" stroke-width="1"/>
<path d="M245.65 761.3V757.5M243.55 757.5H247.75" stroke="#151515" stroke-width="1.2" fill="none"/>
<rect x="241.3" y="761.3" width="8.7" height="10.5" fill="#000"/>
<path d="M253.8 670.8V655M251.7 655H255.9" stroke="#151515" stroke-width="1.2" fill="none"/>
<rect x="250.5" y="671.3" width="6.6" height="100.5" fill="#808080" stroke="#2a2a2a" stroke-width="1"/>
<path d="M271.65 696.3V672.5M269.55 672.5H273.75" stroke="#151515" stroke-width="1.2" fill="none"/>
<rect x="267.5" y="696.3" width="8.3" height="75.5" fill="#111"/>
<path d="M268.6 698.9H275.1M268.6 702.36H275.1M268.6 705.82H275.1M268.6 709.28H275.1M268.6 712.74H275.1M268.6 716.2H275.1M268.6 719.66H275.1M268.6 723.12H275.1M268.6 726.58H275.1M268.6 730.04H275.1M268.6 733.5H275.1M268.6 736.96H275.1M268.6 740.42H275.1M268.6 743.88H275.1M268.6 747.34H275.1M268.6 750.8H275.1M268.6 754.26H275.1M268.6 757.72H275.1M268.6 761.18H275.1M268.6 764.64H275.1M268.6 768.1H275.1" stroke="#b2b2b2" stroke-width="1.6" fill="none"/>
<path d="M280.15 662.8V567M278.05 567H282.25" stroke="#151515" stroke-width="1.2" fill="none"/>
<rect x="276.3" y="663.3" width="7.7" height="108.5" fill="#fff" stroke="#111" stroke-width="1"/>
<path d="M276.3 666.2H284M276.3 669.66H284M276.3 673.12H284M276.3 676.58H284M276.3 680.04H284M276.3 683.5H284M276.3 686.96H284M276.3 690.42H284M276.3 693.88H284M276.3 697.34H284M276.3 700.8H284M276.3 704.26H284M276.3 707.72H284M276.3 711.18H284M276.3 714.64H284M276.3 718.1H284M276.3 721.56H284M276.3 725.02H284M276.3 728.48H284M276.3 731.94H284M276.3 735.4H284M276.3 738.86H284M276.3 742.32H284M276.3 745.78H284M276.3 749.24H284M276.3 752.7H284M276.3 756.16H284M276.3 759.62H284M276.3 763.08H284M276.3 766.54H284M276.3 770H284" stroke="#1a1a1a" stroke-width="1.35" fill="none"/>
<path d="M201.3 556.1V771.8" stroke="#1c1c1c" stroke-width="1.35" fill="none"/>
<path d="M200.1 771.8H291" stroke="#000" stroke-width="1.45" fill="none"/>
<path d="M199.3 556.6H201.3" stroke="#2b2b2b" stroke-width="1" fill="none"/>
<text transform="translate(198 560.1) scale(0.955 1)" font-size="11.6" text-anchor="end" class="s" fill="#222" stroke="#222" stroke-width="0.15">1800</text>
<path d="M199.3 628.33H201.3" stroke="#2b2b2b" stroke-width="1" fill="none"/>
<text transform="translate(198 631.83) scale(0.955 1)" font-size="11.6" text-anchor="end" class="s" fill="#222" stroke="#222" stroke-width="0.15">1200</text>
<path d="M199.3 700.07H201.3" stroke="#2b2b2b" stroke-width="1" fill="none"/>
<text transform="translate(198 703.57) scale(0.955 1)" font-size="11.6" text-anchor="end" class="s" fill="#222" stroke="#222" stroke-width="0.15">600</text>
<text transform="translate(198 775.3) scale(0.955 1)" font-size="11.6" text-anchor="end" class="s" fill="#222" stroke="#222" stroke-width="0.15">0</text>
<text x="263.5" y="566.9" font-size="8.4" letter-spacing="0.6" text-anchor="middle" class="s" fill="#111" stroke="#111" stroke-width="0.5">*</text>
<text x="216.6" y="641.4" font-size="8.4" letter-spacing="0.6" text-anchor="middle" class="s" fill="#111" stroke="#111" stroke-width="0.5">***</text>
<text x="249.3" y="641.4" font-size="8.4" letter-spacing="0.6" text-anchor="middle" class="s" fill="#111" stroke="#111" stroke-width="0.5">***</text>
<text x="213.1" y="657.7" font-size="8.4" letter-spacing="0.6" text-anchor="middle" class="s" fill="#111" stroke="#111" stroke-width="0.5">***</text>
<path d="M202.5 782.7H231.3" stroke="#333" stroke-width="1.3" fill="none"/>
<text transform="translate(215.65 798.3) scale(0.86 1)" font-size="12" text-anchor="middle" class="t" font-weight="bold" fill="#111" stroke="#111" stroke-width="0.4">2M</text>
<path d="M239.5 782.7H256.3" stroke="#333" stroke-width="1.3" fill="none"/>
<text transform="translate(245.25 798.3) scale(0.86 1)" font-size="12" text-anchor="middle" class="t" font-weight="bold" fill="#111" stroke="#111" stroke-width="0.4">5M</text>
<path d="M266.3 782.7H283.8" stroke="#333" stroke-width="1.3" fill="none"/>
<text transform="translate(276.3 798.3) scale(0.86 1)" font-size="12" text-anchor="middle" class="t" font-weight="bold" fill="#111" stroke="#111" stroke-width="0.4">5M</text>
<rect x="318.1" y="556" width="155.3" height="214.8" fill="#fff" stroke="#2c2c2c" stroke-width="1.25"/>
<text x="334.6" y="585.9" font-size="19.3" class="t" font-weight="bold" fill="#111" stroke="#111" stroke-width="0.2" letter-spacing="0.25">Legend<tspan dx="2.2">:</tspan></text>
<rect x="336.2" y="616" width="13.8" height="11.700000000000001" fill="#000"/>
<text x="355" y="627.5" font-size="18.5" class="t" font-weight="bold" font-style="italic" fill="#111" stroke="#111" stroke-width="0.35">(+/+)<tspan font-size="13" dy="-4.7" dx="0.6">tp</tspan></text>
<rect x="336.8" y="647.5" width="12.600000000000001" height="11.100000000000001" fill="#808080" stroke="#2a2a2a" stroke-width="1.2"/>
<text x="355" y="658.8" font-size="18.5" class="t" font-weight="bold" font-style="italic" fill="#111" stroke="#111" stroke-width="0.35">(th3/+)<tspan font-size="13" dy="-4.7" dx="0.6">tp</tspan></text>
<rect x="336.8" y="677.9" width="12.600000000000001" height="11.3" fill="#fff" stroke="#1c1c1c" stroke-width="1.2"/>
<text x="355" y="690.4" font-size="18.5" class="t" font-weight="bold" font-style="italic" fill="#111" stroke="#111" stroke-width="0.35">(th3/th3)<tspan font-size="13" dy="-4.7" dx="0.6">tp</tspan></text>
<rect x="336.2" y="708.2" width="13.8" height="12.3" fill="#161616"/>
<path d="M337.2 711.3H349.0M337.2 714.4H349.0M337.2 717.5H349.0" stroke="#a6a6a6" stroke-width="1.4" fill="none"/>
<text x="355" y="720.2" font-size="18.5" class="t" font-weight="bold" font-style="italic" fill="#111" stroke="#111" stroke-width="0.35">(th3/+)<tspan font-size="13" dy="-4.7" dx="0.6">tp<tspan dx="0.8">tx</tspan></tspan></text>
<rect x="336.8" y="739.1" width="12.600000000000001" height="11.5" fill="#fff" stroke="#222" stroke-width="1.2"/>
<path d="M337.2 742H349.0M337.2 745.05H349.0M337.2 748.1H349.0" stroke="#2a2a2a" stroke-width="1.3" fill="none"/>
<text x="355" y="750.8" font-size="18.5" class="t" font-weight="bold" font-style="italic" fill="#111" stroke="#111" stroke-width="0.35">(th3/th3)<tspan font-size="13" dy="-4.7" dx="0.6">tp<tspan dx="0.8">tx</tspan></tspan></text>
</svg></body></html>
